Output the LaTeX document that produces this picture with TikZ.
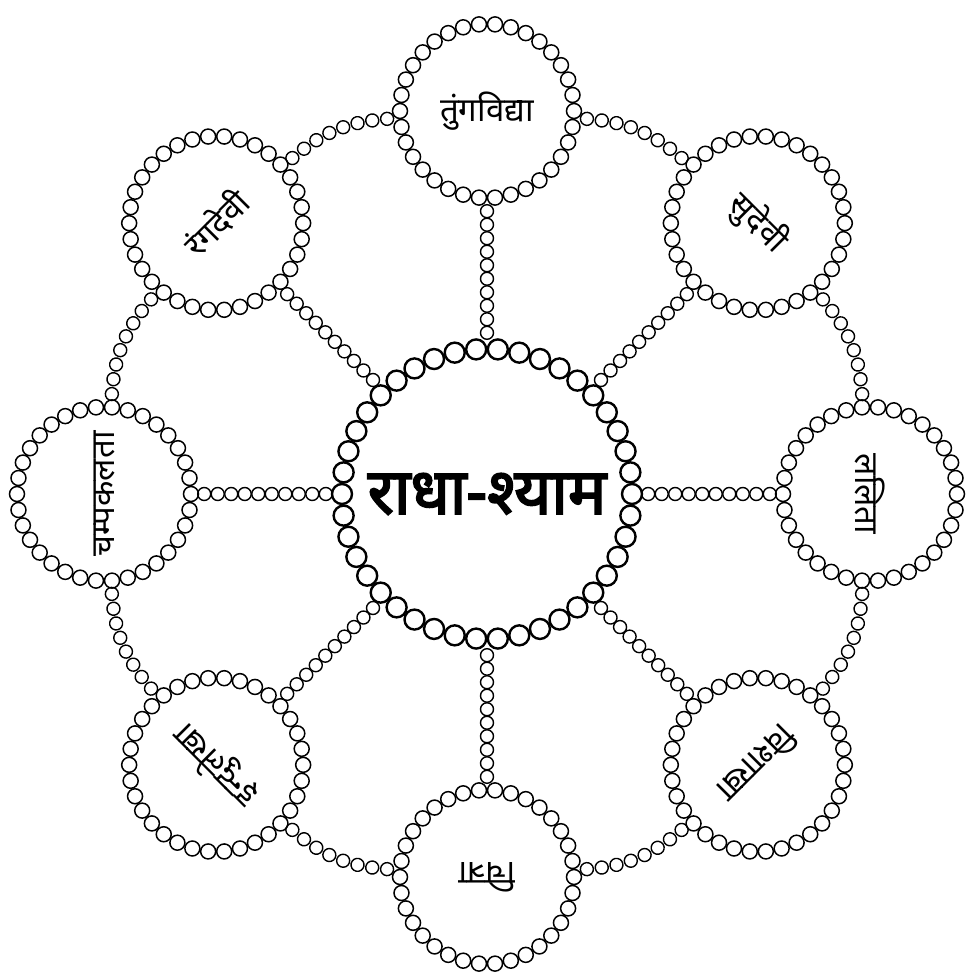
\documentclass[tikz,border=0pt]{standalone}
\usepackage{fontspec}
\newfontfamily\dev[Script=Devanagari]{Noto Sans}
\newfontfamily\devbold[Script=Devanagari,FakeBold=3]{Noto Sans}
\usetikzlibrary{decorations.markings}
\tikzset{
  bigbead/.style={draw, line width=2.4pt},
  ringbead/.style={draw, line width=1.5pt},
  hub/.style={circle, minimum size=322pt, inner sep=0pt},
  sakhi/.style={circle, minimum size=200pt, inner sep=0pt, font=\dev\fontsize{33}{36}\selectfont},
  chain/.style={decorate, decoration={markings,
     mark=between positions 0 and 1 step #1 with {\draw[line width=1.4pt] (0,0) circle (6.5pt);}}},
}
\begin{document}
\begin{tikzpicture}[x=1pt,y=1pt]
\useasboundingbox (-487,-483) rectangle (480,494);
% central ring
\node[hub, font=\devbold\fontsize{64}{70}\selectfont] (C) at (0,0) {राधा-श्याम};
\foreach \k in {0,...,41} \draw[bigbead] (C) ++(\k*360/42:145) circle (10pt);
% outer circles
\foreach \a/\n/\t in {0/0/ललिता, 45/1/सुदेवी, 90/2/तुंगविद्या, 135/3/रंगदेवी,
                     180/4/चम्पकलता, 225/5/इन्दुलेखा, 270/6/चित्रा, 315/7/विशाखा}{
  \node[sakhi, rotate=\a-90] (O\n) at (\a:383) {\t};
  \foreach \k in {0,...,33} \draw[ringbead] (O\n) ++(\k*360/34:87) circle (7.5pt);
  \path[chain=0.1111] (C) -- (O\n);
}
% chains between neighbours
\foreach \i/\j in {0/1,1/2,2/3,3/4,4/5,5/6,6/7,7/0}
  \path[chain=0.1428] (O\i) to[bend right=18] (O\j);
\end{tikzpicture}
\end{document}
